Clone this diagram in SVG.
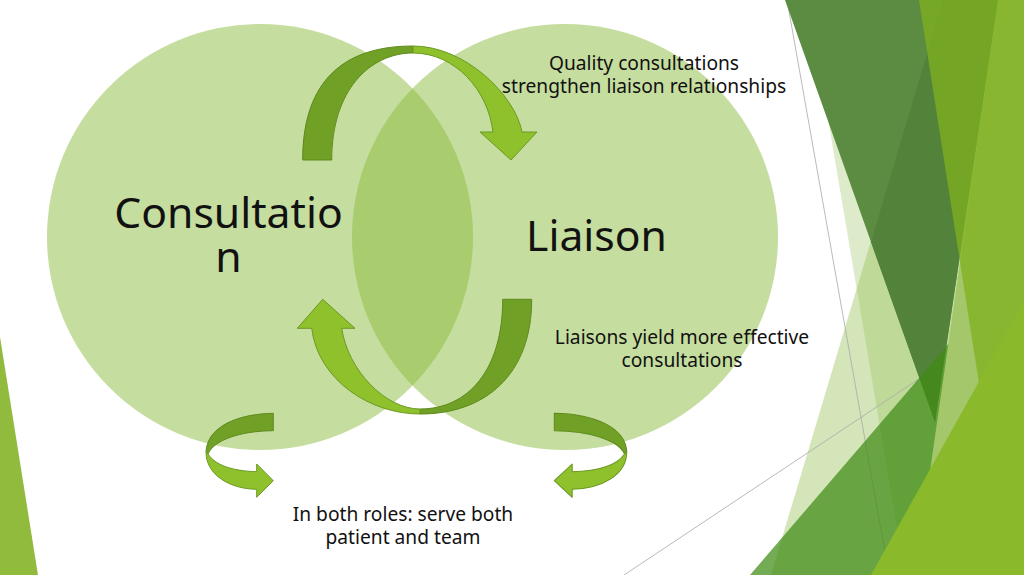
<svg xmlns="http://www.w3.org/2000/svg" width="1024" height="575" viewBox="0 0 1024 575">
  <style>
    .big { font-family: "Noto Sans", "Open Sans", sans-serif; font-size: 42.67px; fill: #111; text-anchor: middle; }
    .small { font-family: "Noto Sans", "Open Sans", sans-serif; font-size: 19.2px; fill: #111; text-anchor: middle; }
    .circ { fill: #8bbb3d; fill-opacity: 0.5; }
    .adark { fill: #71a026; stroke: #5f8b1e; stroke-width: 1; stroke-linejoin: round; }
    .alight { fill: #8fc12d; stroke: #6a9a22; stroke-width: 1; stroke-linejoin: round; }
    .gl { stroke: #a8a8a8; stroke-width: 0.8; fill: none; }
  </style>
  <rect width="1024" height="575" fill="#ffffff"/>

  <g id="decoration">
    <polygon points="943,0 1024,0 1024,575 771,575" fill="#d4e6b9"/>
    <polygon points="808,0 1024,0 1024,575 905,575" fill="#8fbc50" fill-opacity="0.3"/>
    <line class="gl" x1="787" y1="0" x2="889" y2="575"/>
    <line class="gl" x1="624" y1="575" x2="1024" y2="309"/>
    <polygon points="785,0 998,0 935,422" fill="#5b8c42"/>
    <polygon points="943,0 998,0 935,422 871,242" fill="#53833a"/>
    <polygon points="750,575 1024,575 1024,256" fill="#3f8a14" fill-opacity="0.72"/>
    <polygon points="998,0 1024,0 1024,575 915,575" fill="#a3c76a"/>
    <polygon points="919,0 1024,0 1024,575 1009,575" fill="#7fb01f" fill-opacity="0.75"/>
    <polygon points="871,575 1024,575 1024,301" fill="#8ab92c"/>
    <polygon points="0,337 0,575 38,575" fill="#90bb3c"/>
  </g>

  <g id="node-consultation">
    <circle class="circ" cx="260" cy="237" r="213"/>
  </g>
  <g id="node-liaison">
    <circle class="circ" cx="565" cy="237" r="213"/>
  </g>

  <g id="connectors">
    <!-- top curved arrow: Consultation to Liaison -->
    <g id="arrow-top">
      <path class="adark" d="M302.7,160 C302.7,90 335,46 413,46 L413,53 C370,53 331.7,90 331.7,160 Z"/>
      <path class="alight" d="M413,46 C465,46 515,95 522,132 L537,132 L511,160 L480,132 L493,132 C488,90 455,53 413,53 Z"/>
    </g>
    <!-- bottom curved arrow: Liaison to Consultation -->
    <g id="arrow-bottom">
      <path class="adark" d="M531.7,299.3 C531.7,375 485,414 420,414 L420,409 C468,409 502.7,370 502.7,299.3 Z"/>
      <path class="alight" d="M420,414 C370,414 318,380 311.7,328.3 L297.3,328.3 L322.7,299.3 L355,328.3 L341.7,328.3 C348,370 385,409 420,409 Z"/>
    </g>
    <!-- left small circular arrow -->
    <g id="arrow-left">
      <path class="adark" d="M273.3,413.3 C235,414 207,428 206,452 L208,454 C214,440 240,431 273.3,430.7 Z"/>
      <path class="alight" d="M206,452 C206,475 230,489 256.7,489.3 L256.7,497.3 L273.3,480.7 L256.7,464 L256.7,471.7 C232,471 215,465 208,454 Z"/>
    </g>
    <!-- right small circular arrow -->
    <g id="arrow-right" transform="matrix(-1.076,0,0,1,848.4,0)">
      <path class="adark" d="M273.3,413.3 C235,414 207,428 206,452 L208,454 C214,440 240,431 273.3,430.7 Z"/>
      <path class="alight" d="M206,452 C206,475 230,489 256.7,489.3 L256.7,497.3 L273.3,480.7 L256.7,464 L256.7,471.7 C232,471 215,465 208,454 Z"/>
    </g>
  </g>

  <g id="labels">
    <text class="big" x="228.5" y="228">Consultatio</text>
    <text class="big" x="228.5" y="272">n</text>
    <text class="big" x="596.5" y="251">Liaison</text>
    <text class="small" x="644" y="70">Quality consultations</text>
    <text class="small" x="644" y="93">strengthen liaison relationships</text>
    <text class="small" x="682" y="344">Liaisons yield more effective</text>
    <text class="small" x="682" y="367">consultations</text>
    <text class="small" x="403" y="521">In both roles: serve both</text>
    <text class="small" x="403" y="544">patient and team</text>
  </g>
</svg>
